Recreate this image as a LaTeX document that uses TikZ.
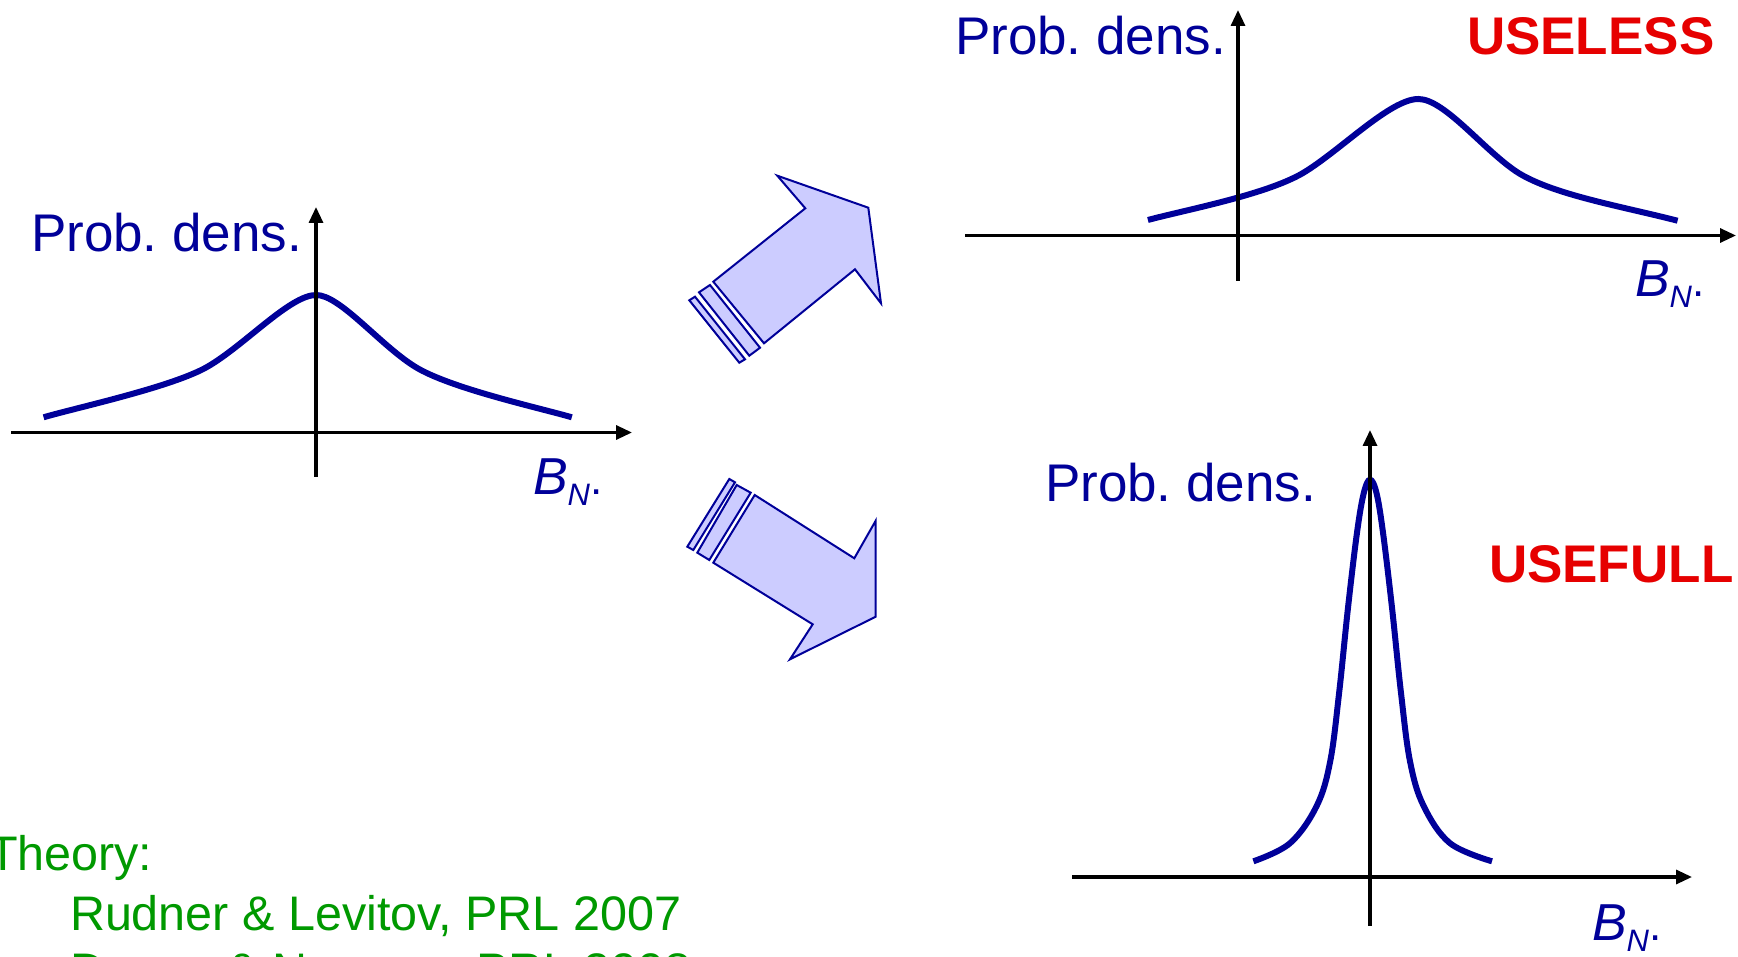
\documentclass[tikz,border=0pt]{standalone}
\usepackage{fontspec}
\setmainfont{Liberation Sans}
\usetikzlibrary{arrows.meta}
\definecolor{navyc}{RGB}{0,0,153}
\definecolor{lavc}{RGB}{204,204,255}
\definecolor{redc}{RGB}{230,0,0}
\definecolor{greenc}{RGB}{0,153,0}
\frenchspacing
\newcommand{\BNlabel}{{\itshape B}\raisebox{-11pt}{\fontsize{31}{31}\selectfont\itshape N}{\fontsize{44}{44}\selectfont .}}
\begin{document}
\begin{tikzpicture}[x=1pt,y=-1pt,
  every node/.style={inner sep=0pt,outer sep=0pt,anchor=base west},
  axisline/.style={line width=3.2pt,black,-{Triangle[length=16pt,width=14pt]}},
  curveline/.style={line width=6pt,navyc,line cap=butt},
  bigarrow/.style={draw=navyc,fill=lavc,line width=2pt,line join=miter},
  lab/.style={text=navyc,font=\fontsize{53}{60}\selectfont},
  verdict/.style={text=redc,font=\fontsize{53}{60}\selectfont\bfseries},
  refs/.style={text=greenc,font=\fontsize{48.5}{56}\selectfont},
  bn/.style={text=navyc,font=\fontsize{52}{60}\selectfont}]
\clip (0,0) rectangle (1738,957);
\fill[white] (0,0) rectangle (1738,957);

% big arrows
\draw[bigarrow] (713.3,281.7) -- (805.3,208.3) -- (777.3,175.7) -- (868.3,207.7) -- (881,303.3) -- (855,269.3) -- (764,343.3) -- cycle;
\draw[bigarrow] (699,292.3) -- (710,285) -- (760,347.7) -- (749.3,355.7) -- cycle;
\draw[bigarrow] (689.3,300.3) -- (695,296.7) -- (745,359.3) -- (739.3,362.7) -- cycle;

\draw[bigarrow] (754.7,495) -- (854.3,558.3) -- (875.7,520.7) -- (875.7,616.7) -- (790,659.3) -- (812.7,624.3) -- (713.3,562.7) -- cycle;
\draw[bigarrow] (736.7,485) -- (750.7,492.7) -- (709.3,560) -- (697.3,552.7) -- cycle;
\draw[bigarrow] (729.3,479) -- (735,482.3) -- (693.3,550) -- (687.3,546.7) -- cycle;

% curves
\draw[curveline] (43.6,417.3) .. controls (75,408) and (172.5,387) .. (207.5,366.7)
  .. controls (245,345) and (290,295) .. (316.2,295)
  .. controls (340,295) and (380,345) .. (415,366.7)
  .. controls (450,388.4) and (540,408) .. (571.8,417.3);
\draw[curveline] (1147.9,220) .. controls (1185,210) and (1265,195) .. (1302.5,173.3)
  .. controls (1340,151) and (1390,99) .. (1418.3,99)
  .. controls (1445,99) and (1485,152) .. (1519,173.3)
  .. controls (1555,195) and (1620,206) .. (1677.6,220.7);
\draw[curveline] plot[smooth,tension=0.6] coordinates {(1253.4,861.3) (1290,843.2) (1316.8,805.7) (1330.2,761.3) (1339.1,693) (1348,607.7) (1357,532.6) (1363.7,493.4) (1370,479.7) (1376.5,493) (1383,532.6) (1392,607.7) (1401,693) (1410,761.3) (1423.5,805.7) (1450,843.2) (1492,861.3)};

% axes
\coordinate (ax1l) at (11,432.5);   \coordinate (ax1r) at (632,432.5);
\coordinate (ay1b) at (316,476.6);  \coordinate (ay1t) at (316,207);
\coordinate (ax2l) at (965,235.5);  \coordinate (ax2r) at (1736,235.5);
\coordinate (ay2b) at (1238,281);   \coordinate (ay2t) at (1238,10);
\coordinate (ax3l) at (1072,877);   \coordinate (ax3r) at (1692,877);
\coordinate (ay3b) at (1370,925.5); \coordinate (ay3t) at (1370,430);
\draw[axisline] (ax1l) -- (ax1r);
\draw[axisline] (ay1b) -- (ay1t);
\draw[axisline] (ax2l) -- (ax2r);
\draw[axisline] (ay2b) -- (ay2t);
\draw[axisline] (ax3l) -- (ax3r);
\draw[axisline] (ay3b) -- (ay3t);

% labels
\node[lab] (pd1) at (31,251.7) {Prob. dens.};
\node[lab] (pd2) at (955,55) {Prob. dens.};
\node[lab] (pd3) at (1045,501.5) {Prob. dens.};
\node[verdict] (useless) at (1467,55) {USELESS};
\node[verdict] (usefull) at (1489,582) {USEFULL};
\node[bn] (bn1) at (533,494) {\BNlabel};
\node[bn] (bn2) at (1635,296.7) {\BNlabel};
\node[bn] (bn3) at (1592,940) {\BNlabel};
\node[refs] (theory) at (-12,870) {Theory:};
\node[refs] (ref1) at (70,930) {Rudner \& Levitov, PRL 2007};
\node[refs] (ref2) at (70,987) {Danon \& Nazarov, PRL 2008};
\end{tikzpicture}
\end{document}
